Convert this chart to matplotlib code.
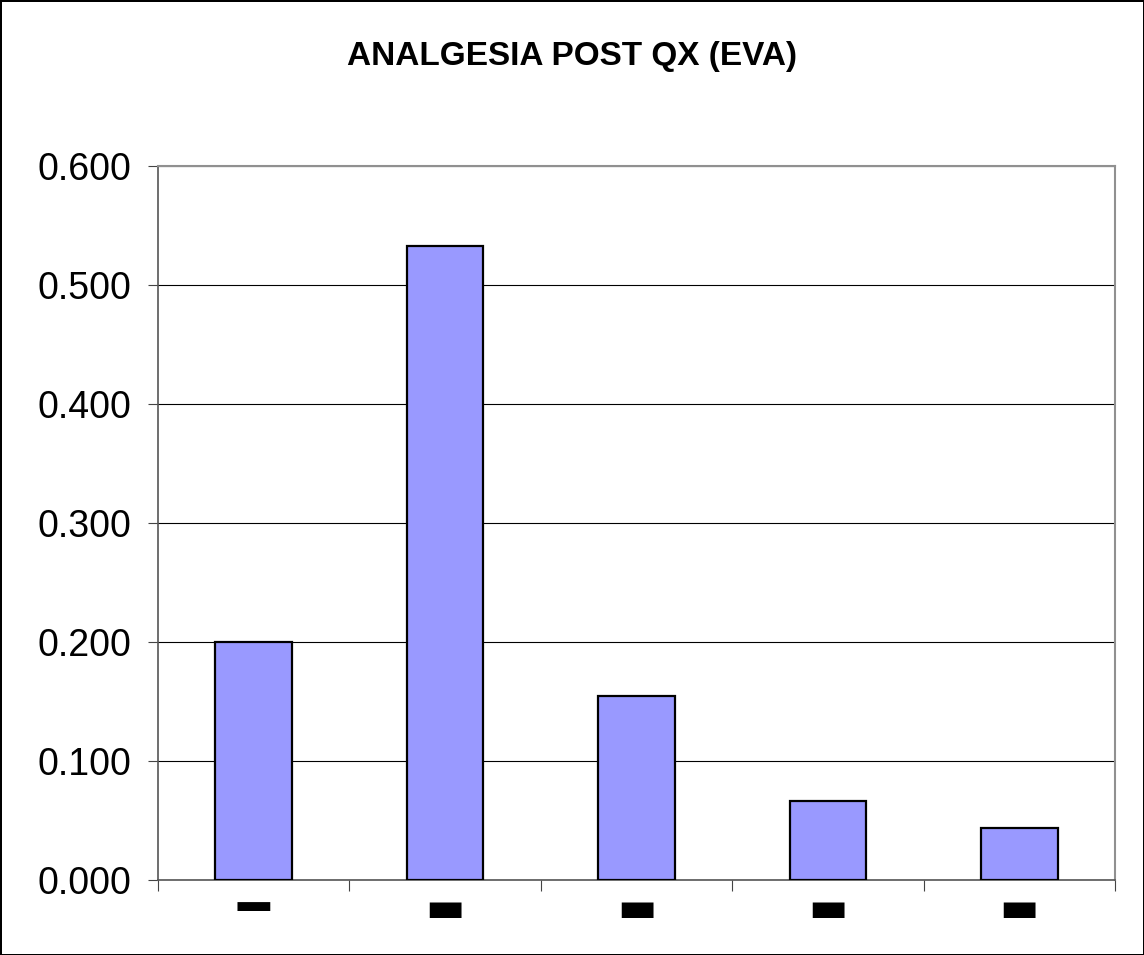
import matplotlib
matplotlib.use("Agg")
import matplotlib.pyplot as plt
from matplotlib.ticker import FormatStrFormatter, FixedLocator
import numpy as np

title = "ANALGESIA POST QX (EVA)"
categories = ["━", "▬", "▬", "▬", "▬"]
values = [0.200, 0.533, 0.155, 0.066, 0.044]
yticks = [0.0, 0.1, 0.2, 0.3, 0.4, 0.5, 0.6]

plt.rcParams['font.family'] = ['Liberation Sans', 'DejaVu Sans']

fig = plt.figure(figsize=(11.44, 9.55), dpi=100)
fig.patch.set_facecolor("white")
fig.patch.set_edgecolor("black")
fig.patch.set_linewidth(2)

W, H = 1144, 955
ax = fig.add_axes([158 / W, 1 - 880 / H, (1115 - 158) / W, (880 - 166) / H])

x = np.arange(len(values))
ax.bar(x, values, width=0.4, color="#9999FF", edgecolor="black", linewidth=1.6, zorder=3)

ax.set_xlim(-0.5, len(values) - 0.5)
ax.set_ylim(0, 0.6)
ax.set_yticks(yticks)
ax.yaxis.set_major_formatter(FormatStrFormatter("%.3f"))
ax.grid(axis="y", color="black", linewidth=0.8, zorder=0)

# x: boundary ticks (major) and labels at centres (minor)
ax.xaxis.set_major_locator(FixedLocator(np.arange(-0.5, len(values), 1.0)))
ax.xaxis.set_ticklabels([])
ax.set_xticks(x, minor=True)
ax.set_xticklabels(categories, minor=True, fontsize=30, family="DejaVu Sans")
labs = ax.get_xticklabels(minor=True)
labs[0].set_fontsize(38)
labs[0].set_y(0.006)
ax.tick_params(axis="x", which="major", direction="out", length=8, width=0.8, color="#444444")
ax.tick_params(axis="x", which="minor", length=0, pad=6)
ax.tick_params(axis="y", direction="out", length=7, width=0.8, color="#444444", labelsize=27, pad=12)

for s in ["top", "right"]:
    ax.spines[s].set_color("#909090")
    ax.spines[s].set_linewidth(1.5)
ax.spines["left"].set_color("#555555")
ax.spines["left"].set_linewidth(1.2)
ax.spines["bottom"].set_color("#555555")
ax.spines["bottom"].set_linewidth(1.2)

fig.text(0.5, 1 - 57 / H, title, ha="center", va="center", fontsize=24, fontweight="bold")

fig.savefig("out.png", dpi=100, facecolor=fig.get_facecolor(), edgecolor=fig.get_edgecolor())
